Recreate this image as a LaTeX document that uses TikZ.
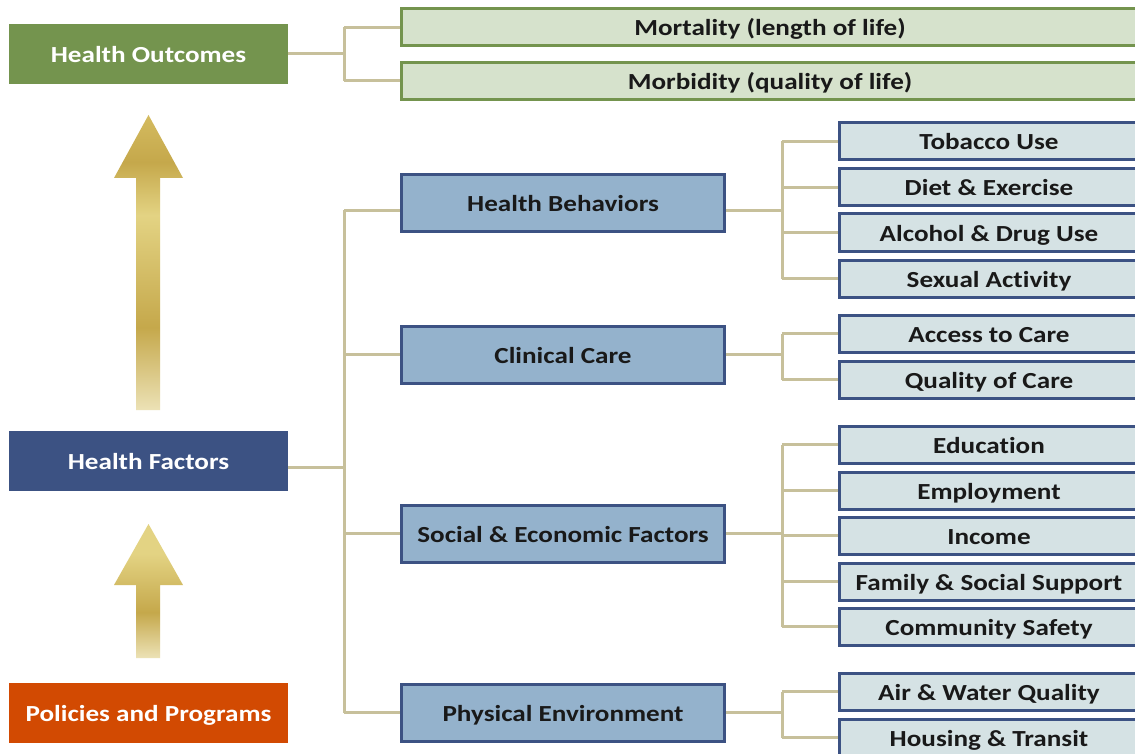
\documentclass[tikz,border=0pt]{standalone}
\usepackage{fontspec}
\setmainfont{Carlito}[FakeStretch=1.18, Ligatures=NoCommon]
\definecolor{hogreen}{RGB}{116,148,78}
\definecolor{hoboxfill}{RGB}{214,226,204}
\definecolor{navy}{RGB}{60,82,131}
\definecolor{midfill}{RGB}{148,178,204}
\definecolor{leaffill}{RGB}{213,226,228}
\definecolor{ppor}{RGB}{210,74,2}
\definecolor{conncol}{RGB}{199,192,155}
\definecolor{gdark}{RGB}{197,168,75}
\definecolor{glight}{RGB}{227,211,131}
\definecolor{gpale}{RGB}{236,226,182}
\definecolor{gtip}{RGB}{212,187,96}
\pgfdeclareverticalshading{goldA}{100bp}{color(0bp)=(gpale); color(25bp)=(gpale); color(39bp)=(gdark); color(58bp)=(glight); color(67bp)=(gdark); color(75bp)=(gtip); color(100bp)=(gtip)}
\pgfdeclareverticalshading{goldB}{100bp}{color(0bp)=(gpale); color(25bp)=(gpale); color(42bp)=(gdark); color(64bp)=(glight); color(75bp)=(glight); color(100bp)=(glight)}
\pgfdeclarelayer{back}
\pgfdeclarelayer{bg}
\pgfsetlayers{back,bg,main}
\tikzset{
  boxtext/.style={inner sep=0pt, text height=18pt, text depth=1pt, font=\bfseries\fontsize{23}{26}\selectfont},
  mainbox/.style={rectangle, boxtext, minimum width=279pt, minimum height=60pt, text=white},
  midbox/.style={rectangle, boxtext, draw=navy, fill=midfill, line width=3pt, minimum width=323pt, minimum height=57pt, text=black!90},
  leafbox/.style={rectangle, boxtext, draw=navy, fill=leaffill, line width=3pt, minimum width=300pt, minimum height=37pt, text=black!90},
  hobox/.style={rectangle, boxtext, draw=hogreen, fill=hoboxfill, line width=3pt, minimum width=738pt, minimum height=37pt, text=black!90},
  conn/.style={draw=conncol, line width=3pt}
}
\begin{document}
\begin{tikzpicture}[x=1pt,y=-1pt]
\clip (0,0) rectangle (1135,754);
\begin{pgfonlayer}{back}
\fill[white] (0,0) rectangle (1135,754);
\end{pgfonlayer}
% left column
\node[mainbox, fill=hogreen] (ho) at (148.5,54) {Health Outcomes};
\node[mainbox, fill=navy] (hf) at (148.5,460.5) {Health Factors};
\node[mainbox, fill=ppor] (pp) at (148.5,713) {Policies and Programs};
% arrows
\shade[shading=goldA] (136,410) -- (136,178) -- (114,178) -- (148.5,115) -- (183,178) -- (160,178) -- (160,410) -- cycle;
\shade[shading=goldB] (136,658) -- (136,585) -- (114,585) -- (148.5,524) -- (183,585) -- (160,585) -- (160,658) -- cycle;
% outcomes
\node[hobox] (mort) at (770,27.5) {Mortality (length of life)};
\node[hobox] (morb) at (770,81) {Morbidity (quality of life)};
% middle
\node[midbox] (hb) at (563,203.5) {Health Behaviors};
\node[midbox] (cc) at (563,354.5) {Clinical Care};
\node[midbox] (se) at (563,533.5) {Social \& Economic Factors};
\node[midbox] (pe) at (563,712.5) {Physical Environment};
% leaves
\node[leafbox] (tob) at (989,141.5) {Tobacco Use};
\node[leafbox] (die) at (989,187.5) {Diet \& Exercise};
\node[leafbox] (alc) at (989,232.5) {Alcohol \& Drug Use};
\node[leafbox] (sex) at (989,278.5) {Sexual Activity};
\node[leafbox] (acc) at (989,333.5) {Access to Care};
\node[leafbox] (qoc) at (989,379.5) {Quality of Care};
\node[leafbox] (edu) at (989,444.5) {Education};
\node[leafbox] (emp) at (989,490.5) {Employment};
\node[leafbox] (inc) at (989,535.5) {Income};
\node[leafbox] (fam) at (989,581.5) {Family \& Social Support};
\node[leafbox] (com) at (989,626.5) {Community Safety};
\node[leafbox] (air) at (989,691.5) {Air \& Water Quality};
\node[leafbox] (hou) at (989,737.5) {Housing \& Transit};
\begin{pgfonlayer}{bg}
% connectors: outcomes
\coordinate (hoB) at (344,0);
\draw[conn] (ho.east) -- (hoB |- ho.east);
\draw[conn] (hoB |- mort.west) -- (hoB |- morb.west);
\draw[conn] (hoB |- mort.west) -- (mort.west);
\draw[conn] (hoB |- morb.west) -- (morb.west);
% factors
\coordinate (hfB) at (344,0);
\coordinate (hfE) at ([yshift=-7pt]hf.east);
\coordinate (hbW) at ([yshift=-7pt]hb.west);
\coordinate (hbE) at ([yshift=-7pt]hb.east);
\draw[conn] (hfE) -- (hfB |- hfE);
\draw[conn] (hfB |- hbW) -- (hfB |- pe.west);
\draw[conn] (hfB |- hbW) -- (hbW);
\draw[conn] (hfB |- cc.west) -- (cc.west);
\draw[conn] (hfB |- se.west) -- (se.west);
\draw[conn] (hfB |- pe.west) -- (pe.west);
% leaves buses
\coordinate (lB) at (782,0);
\draw[conn] (hbE) -- (lB |- hbE);
\draw[conn] (lB |- tob.west) -- (lB |- sex.west);
\foreach \n in {tob,die,alc,sex} \draw[conn] (lB |- \n.west) -- (\n.west);
\draw[conn] (cc.east) -- (lB |- cc.east);
\draw[conn] (lB |- acc.west) -- (lB |- qoc.west);
\foreach \n in {acc,qoc} \draw[conn] (lB |- \n.west) -- (\n.west);
\draw[conn] (se.east) -- (lB |- se.east);
\draw[conn] (lB |- edu.west) -- (lB |- com.west);
\foreach \n in {edu,emp,inc,fam,com} \draw[conn] (lB |- \n.west) -- (\n.west);
\draw[conn] (pe.east) -- (lB |- pe.east);
\draw[conn] (lB |- air.west) -- (lB |- hou.west);
\foreach \n in {air,hou} \draw[conn] (lB |- \n.west) -- (\n.west);
\end{pgfonlayer}
\end{tikzpicture}
\end{document}
